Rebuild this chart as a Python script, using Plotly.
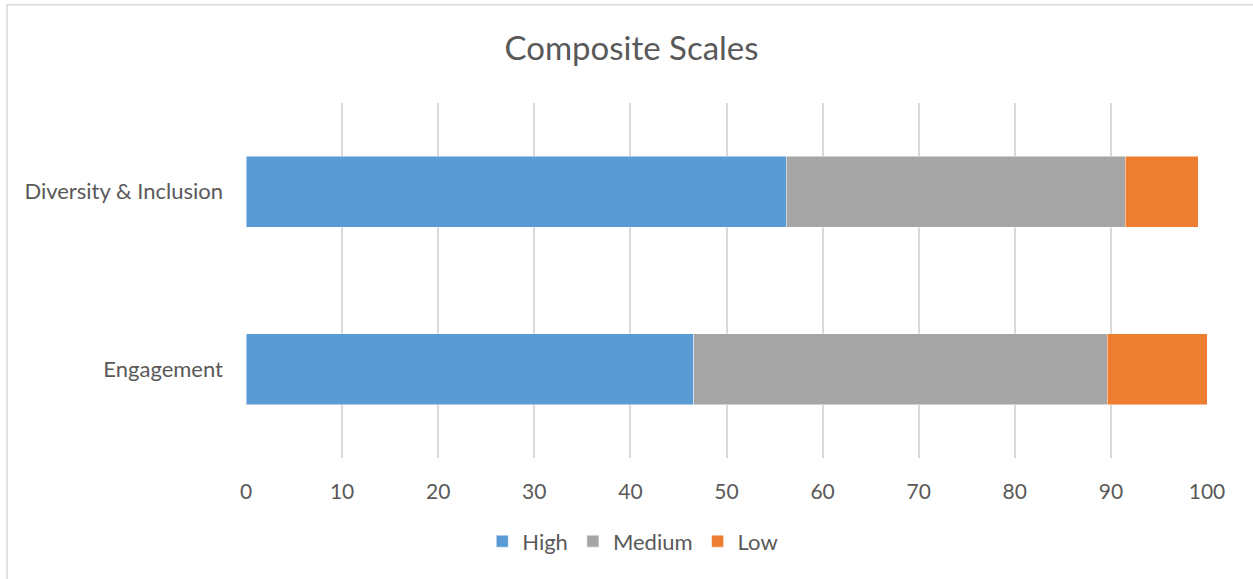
import plotly.graph_objects as go

categories = ["Diversity & Inclusion", "Engagement"]
high = [56.2, 46.6]
medium = [35.3, 43.0]
low = [7.6, 10.4]

series = [
    ("High", high, "#5B9BD5"),
    ("Medium", medium, "#A5A5A5"),
    ("Low", low, "#ED7D31"),
]

font_family = "Lato, 'Open Sans', sans-serif"
text_color = "#595959"

fig = go.Figure()
for name, values, color in series:
    fig.add_trace(go.Bar(
        name=name,
        y=categories,
        x=values,
        orientation="h",
        marker=dict(color=color, line=dict(color="rgba(255,255,255,0.6)", width=0.8)),
    ))

fig.update_layout(
    width=1253,
    height=579,
    barmode="stack",
    bargap=0.6,
    plot_bgcolor="white",
    paper_bgcolor="white",
    margin=dict(l=246, r=46, t=103, b=121),
    title=dict(
        text="Composite Scales",
        x=0.504, xref="container", xanchor="center",
        y=0.917, yref="container", yanchor="middle",
        font=dict(family=font_family, size=33, color=text_color),
    ),
    legend=dict(
        orientation="h",
        xref="container", x=0.505, xanchor="center",
        yref="container", y=0.065, yanchor="middle",
        font=dict(family=font_family, size=22, color=text_color),
        traceorder="normal",
        itemwidth=30,
    ),
    font=dict(family=font_family, color=text_color),
    shapes=[
        dict(type="rect", xref="paper", yref="paper",
             x0=-0.2487, x1=1.1, y0=-0.5, y1=1.2766,
             line=dict(color="#D9D9D9", width=1.5), fillcolor="rgba(0,0,0,0)",
             layer="below"),
    ],
)

fig.update_xaxes(
    range=[0, 100],
    dtick=10,
    showgrid=True,
    gridcolor="#D9D9D9",
    gridwidth=1.5,
    zeroline=False,
    showline=False,
    ticks="",
    ticklabelstandoff=19,
    tickfont=dict(family=font_family, size=21, color=text_color),
)
fig.update_yaxes(
    autorange="reversed",
    showgrid=False,
    zeroline=False,
    showline=False,
    ticks="",
    ticklabelstandoff=22,
    tickfont=dict(family=font_family, size=22, color=text_color),
)

fig.write_html("out.html")
